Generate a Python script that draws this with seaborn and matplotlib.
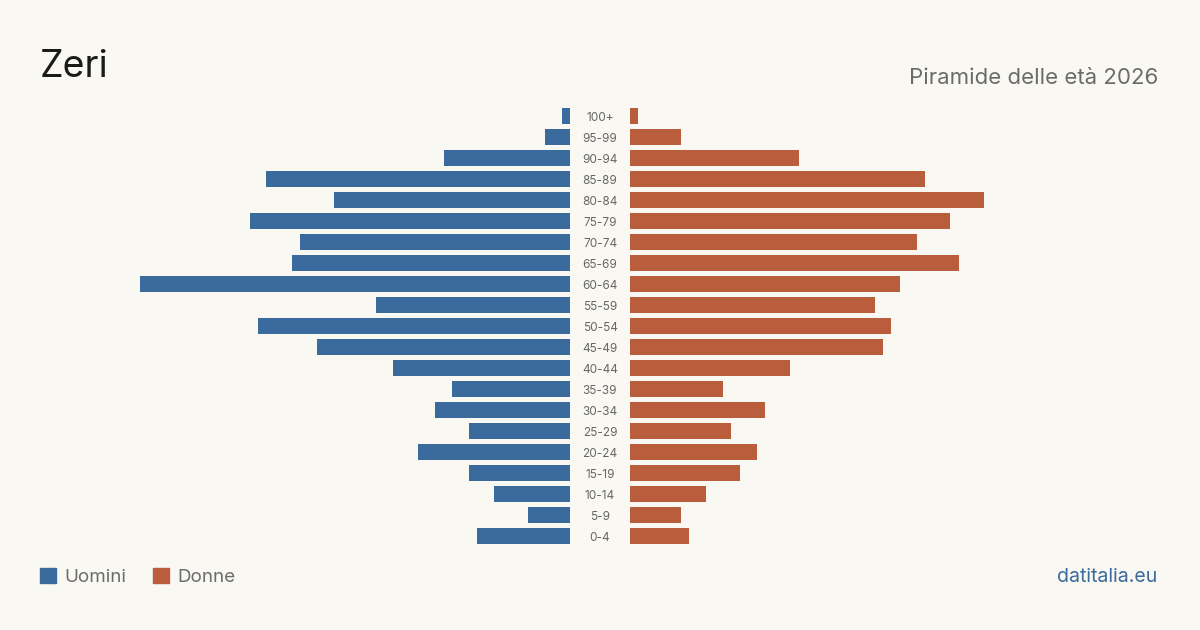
import matplotlib
matplotlib.use("Agg")
import matplotlib.pyplot as plt
import seaborn as sns
import pandas as pd
from matplotlib.patches import Patch

# age classes, top of the pyramid first
age_groups = ["100+", "95-99", "90-94", "85-89", "80-84", "75-79", "70-74",
              "65-69", "60-64", "55-59", "50-54", "45-49", "40-44", "35-39",
              "30-34", "25-29", "20-24", "15-19", "10-14", "5-9", "0-4"]
men = [1, 3, 15, 36, 28, 38, 32, 33, 51, 23, 37, 30, 21, 14, 16, 12, 18, 12, 9, 5, 11]
women = [1, 6, 20, 35, 42, 38, 34, 39, 32, 29, 31, 30, 19, 11, 16, 12, 15, 13, 9, 6, 7]

title = "Zeri"
subtitle = "Piramide delle età 2026"
source = "datitalia.eu"

BG = "#f9f8f3"
BLUE = "#3a6b9c"
ORANGE = "#b95d3c"

sns.set_theme(style="white")
plt.rcParams["font.family"] = ["Inter", "DejaVu Sans"]

df = pd.DataFrame({"age": age_groups, "men": men, "women": women})

fig = plt.figure(figsize=(12, 6.3), dpi=100, facecolor=BG)
xmax = 60
bottom, height = 1 - 546.5 / 630, 441 / 630
ax_m = fig.add_axes([64 / 1200, bottom, 506 / 1200, height])
ax_w = fig.add_axes([630 / 1200, bottom, 506 / 1200, height])

sns.barplot(data=df, x="men", y="age", order=age_groups, orient="h",
            color=BLUE, saturation=1, width=0.8, linewidth=0, ax=ax_m)
sns.barplot(data=df, x="women", y="age", order=age_groups, orient="h",
            color=ORANGE, saturation=1, width=0.8, linewidth=0, ax=ax_w)

ax_m.set_xlim(xmax, 0)
ax_w.set_xlim(0, xmax)
for ax in (ax_m, ax_w):
    ax.set_facecolor("none")
    ax.set_ylim(len(age_groups) - 0.5, -0.5)
    ax.set_xticks([])
    ax.set_yticks([])
    ax.set_xlabel("")
    ax.set_ylabel("")
    sns.despine(ax=ax, left=True, bottom=True)

# age labels in the gap between the two halves
for i, lab in enumerate(age_groups):
    ax_w.text(-30 / 506 * xmax, i + 0.08, lab, ha="center", va="center",
              fontsize=8.5, color="#666666")

fig.text(40 / 1200, 1 - 67 / 630, title, fontsize=27, color="#1a1a1a",
         ha="left", va="center")
fig.text(1158 / 1200, 1 - 78 / 630, subtitle, fontsize=16, color="#6b6b6b",
         ha="right", va="center")
fig.text(1157 / 1200, 1 - 577 / 630, source, fontsize=14, color=BLUE,
         ha="right", va="center")

handles = [Patch(color=BLUE, label="Uomini"), Patch(color=ORANGE, label="Donne")]
fig.legend(handles=handles, loc="center left", bbox_to_anchor=(40 / 1200, 1 - 577 / 630),
           ncol=2, frameon=False, fontsize=13.5, labelcolor="#6b6b6b",
           borderpad=0, borderaxespad=0,
           handlelength=0.85, handleheight=0.85, handletextpad=0.45, columnspacing=1.45)

fig.savefig("out.png", dpi=100, facecolor=BG)
